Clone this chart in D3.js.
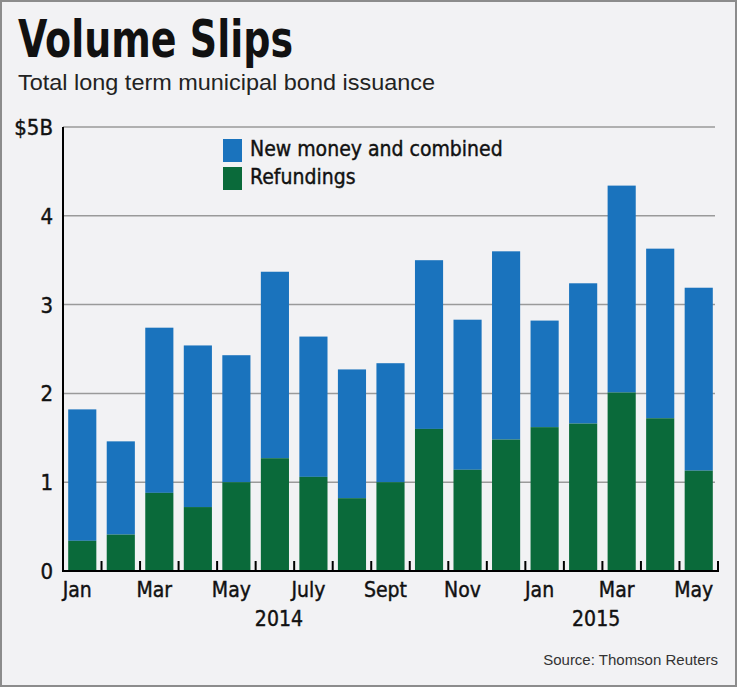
<!DOCTYPE html>
<html>
<head>
<meta charset="utf-8">
<script src="https://cdn.jsdelivr.net/npm/d3@7"></script>
<style>
  body { margin:0; background:#fff; }
  svg text { font-family: "Liberation Sans Narrow", "DejaVu Sans Condensed", "Liberation Sans", sans-serif; }
</style>
</head>
<body>
<div id="chart"></div>
<script>
const months = ["Jan 2014","Feb 2014","Mar 2014","Apr 2014","May 2014","Jun 2014","Jul 2014","Aug 2014","Sep 2014","Oct 2014","Nov 2014","Dec 2014",
                "Jan 2015","Feb 2015","Mar 2015","Apr 2015","May 2015"]
const monthLabels = ["Jan","","Mar","","May","","July","","Sept","","Nov","","Jan","","Mar","","May"]
const refundings = [0.34,0.41,0.88,0.72,1.00,1.27,1.06,0.82,1.00,1.60,1.14,1.48,1.62,1.66,2.01,1.72,1.13]
const totals     = [1.82,1.46,2.74,2.54,2.43,3.37,2.64,2.27,2.34,3.50,2.83,3.60,2.82,3.24,4.34,3.63,3.19]
const newMoney   = totals.map((t,i) => +(t - refundings[i]).toFixed(2))
const yTicks = [0,1,2,3,4,5]
const years = [{label:"2014", at:"Jun 2014", dx:4}, {label:"2015", at:"Feb 2015", dx:13}]

const blue = "#1a73bd", green = "#0a6a3a"

const W = 740, H = 688
const margin = {top:127, left:63, right:22, bottom:117}
const width = W - margin.left - margin.right,
      height = H - margin.top - margin.bottom

const svg = d3.select("#chart").append("svg")
  .attr("width", W).attr("height", H)

svg.append("rect")
  .attr("x",1).attr("y",1).attr("width",735).attr("height",685)
  .attr("fill","#f2f2f4").attr("stroke","#8c8c8c").attr("stroke-width",2)

svg.append("text")
  .attr("x",18).attr("y",57)
  .attr("font-size",52).attr("font-weight","bold")
  .attr("textLength",275).attr("lengthAdjust","spacingAndGlyphs")
  .attr("fill","#111")
  .text("Volume Slips")

svg.append("text")
  .attr("x",18).attr("y",90)
  .attr("font-size",22)
  .style("font-family","'Liberation Sans', Arial, sans-serif")
  .attr("textLength",417).attr("lengthAdjust","spacingAndGlyphs")
  .attr("fill","#222")
  .text("Total long term municipal bond issuance")

svg.append("text")
  .attr("x",718).attr("y",665)
  .attr("text-anchor","end")
  .attr("font-size",15)
  .style("font-family","'Liberation Sans', Arial, sans-serif")
  .attr("fill","#333")
  .text("Source: Thomson Reuters")

const g = svg.append("g")
  .attr("transform","translate(" + margin.left + "," + margin.top + ")")

const x = d3.scaleBand().domain(months).range([0,width]).paddingInner(0.27).paddingOuter(0.135)
const y = d3.scaleLinear().domain([0,5]).range([height,0])
const step = x.step()

//gridlines
g.selectAll(null)
  .data(yTicks.filter(d => d > 0))
  .enter()
  .append("line")
  .attr("x1",0).attr("x2",width - 3)
  .attr("y1",d => y(d)).attr("y2",d => y(d))
  .attr("stroke","#9a9a9a").attr("stroke-width",1.5)

//y labels
g.selectAll(null)
  .data(yTicks)
  .enter()
  .append("text")
  .attr("x",-10)
  .attr("y",d => y(d) + 8)
  .attr("text-anchor","end")
  .attr("font-size",22)
  .attr("fill","#111")
  .attr("stroke","#111").attr("stroke-width",0.4)
  .text(d => d == 5 ? "$5B" : d)

//bars
const bars = g.selectAll(null)
  .data(months)
  .enter()
  .append("g")
bars.append("rect")
  .attr("x",d => x(d)).attr("width",x.bandwidth())
  .attr("y",(d,i) => y(totals[i]))
  .attr("height",(d,i) => y(refundings[i]) - y(totals[i]))
  .attr("fill",blue)
bars.append("rect")
  .attr("x",d => x(d)).attr("width",x.bandwidth())
  .attr("y",(d,i) => y(refundings[i]))
  .attr("height",(d,i) => y(0) - y(refundings[i]))
  .attr("fill",green)

//axes
g.append("line")
  .attr("x1",0).attr("x2",0).attr("y1",y(5)).attr("y2",y(0)+1)
  .attr("stroke","#000").attr("stroke-width",2)
g.append("line")
  .attr("x1",-1).attr("x2",width+1).attr("y1",y(0)).attr("y2",y(0))
  .attr("stroke","#000").attr("stroke-width",2)
g.selectAll(null)
  .data(months)
  .enter()
  .append("line")
  .attr("x1",d => x(d) - step*0.135 + step).attr("x2",d => x(d) - step*0.135 + step)
  .attr("y1",y(0)).attr("y2",y(0) - 10)
  .attr("stroke","#000").attr("stroke-width",2)

//month labels
g.selectAll(null)
  .data(months)
  .enter()
  .append("text")
  .attr("x",d => x(d) + x.bandwidth()/2 - 5)
  .attr("y",height + 26)
  .attr("text-anchor","middle")
  .attr("font-size",21)
  .attr("fill","#111")
  .attr("stroke","#111").attr("stroke-width",0.4)
  .text((d,i) => monthLabels[i])

g.selectAll(null)
  .data(years)
  .enter()
  .append("text")
  .attr("x",d => x(d.at) + x.bandwidth()/2 + d.dx)
  .attr("y",height + 55)
  .attr("text-anchor","middle")
  .attr("font-size",21)
  .attr("fill","#111")
  .attr("stroke","#111").attr("stroke-width",0.4)
  .text(d => d.label)

//legend
const legend = [{name:"New money and combined", color:blue},{name:"Refundings", color:green}]
const lg = svg.append("g").attr("transform","translate(223,139)")
lg.selectAll(null).data(legend).enter().append("rect")
  .attr("x",0).attr("y",(d,i) => i*28)
  .attr("width",19).attr("height",23)
  .attr("fill",d => d.color)
lg.selectAll(null).data(legend).enter().append("text")
  .attr("x",27).attr("y",(d,i) => i*28 + 17)
  .attr("font-size",21)
  .attr("fill","#111")
  .attr("stroke","#111").attr("stroke-width",0.4)
  .text(d => d.name)
</script>
</body>
</html>
